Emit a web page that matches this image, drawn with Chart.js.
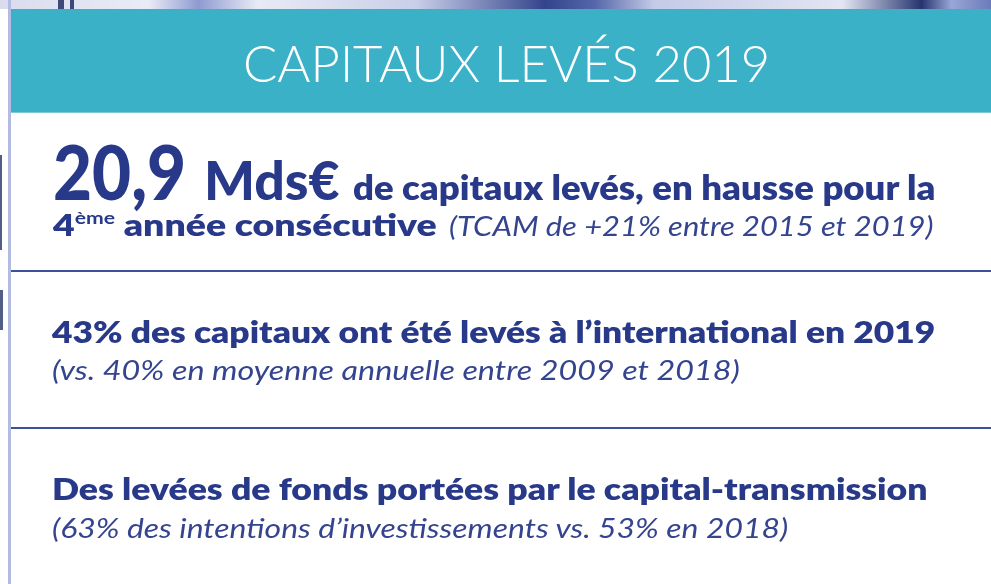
<!DOCTYPE html>
<html lang="fr">
<head>
<meta charset="utf-8">
<script src="https://cdn.jsdelivr.net/npm/chart.js@4/dist/chart.umd.min.js"></script>
<style>
  html, body { margin: 0; padding: 0; overflow: hidden; background: #fff; }
  #wrap { position: relative; width: 991px; height: 584px; }
  #panel { position: absolute; left: 0; top: 0; }
  .ln { position: absolute; white-space: nowrap; transform-origin: 0 0; color: #29398a; font-family: Lato, "Open Sans", sans-serif; }
  .ln .m { display: inline-block; width: 0; height: 0; vertical-align: baseline; }
  .title { color: #fff; font-weight: 300; font-size: 52px; }
  .big { font-weight: 900; font-size: 76px; }
  .mid { font-weight: 900; font-size: 54px; }
  .b { font-weight: 800; font-size: 34px; }
  .b2 { font-weight: 800; font-size: 30px; }
  .it { font-style: italic; font-weight: 400; font-size: 27px; color: #34448f; }
  sup { font-size: 17px; font-weight: 700; vertical-align: 12px; }
</style>
</head>
<body>
<div id="wrap">
  <canvas id="panel" width="991" height="584"></canvas>
  <div class="ln" id="title" data-base="82" data-left="243" data-right="770"></div>
  <div class="ln" id="l1a" data-base="200" data-left="53" data-right="186"></div>
  <div class="ln" id="l1b" data-base="200" data-left="204" data-right="340"></div>
  <div class="ln" id="l1c" data-base="200" data-left="353" data-right="935"></div>
  <div class="ln" id="l2a" data-base="236" data-left="53" data-right="437"></div>
  <div class="ln" id="l2b" data-base="236" data-left="449" data-right="933"></div>
  <div class="ln" id="l3" data-base="343" data-left="52" data-right="935"></div>
  <div class="ln" id="l4" data-base="380" data-left="52" data-right="740"></div>
  <div class="ln" id="l5" data-base="500" data-left="52" data-right="928"></div>
  <div class="ln" id="l6" data-base="538" data-left="52" data-right="788"></div>
</div>
<script>
// chiffres clés 2019
const reportYear = [2019];
const raisedBn = [20.9];            // Mds€ levés
const streak = [4];                 // 4ème année de hausse
const cagrPct = [21];
const cagrYears = [2015, 2019];
const intlShare = [43, 40];         // 2019, moyenne 2009-2018
const intlYears = [2009, 2018];
const transmissionShare = [63, 53]; // 2019, 2018
const transmissionYears = [2018];

const fr = (v) => String(v).replace('.', ',');

// background: photo strip, teal banner, white card, separators
const panelPlugin = {
    id: 'panel',
    beforeDraw(chart) {
        const c = chart.ctx;
        const w = chart.width, h = chart.height;
        c.save();
        c.fillStyle = '#ffffff';
        c.fillRect(0, 0, w, h);

        // top strip (blurred photo behind the card)
        let g = c.createLinearGradient(0, 0, w, 0);
        g.addColorStop(0, '#dadcee');
        g.addColorStop(0.15, '#e9ebf6');
        g.addColorStop(0.2, '#8f9bd0');
        g.addColorStop(0.26, '#e8eaf5');
        g.addColorStop(0.42, '#c9cfe9');
        g.addColorStop(0.55, '#34448c');
        g.addColorStop(0.6, '#5566aa');
        g.addColorStop(0.66, '#c4cae7');
        g.addColorStop(0.85, '#e3e5f3');
        g.addColorStop(0.93, '#26356f');
        g.addColorStop(0.96, '#9aa6d6');
        g.addColorStop(1, '#6a7bbb');
        c.fillStyle = g;
        c.fillRect(0, 0, w, 9);
        c.fillStyle = 'rgba(20,35,90,0.8)';
        c.fillRect(58, 0, 6, 9);
        c.fillRect(70, 0, 4, 9);

        // dark bits of the photo on the left
        c.fillStyle = 'rgba(25,40,95,0.75)';
        c.fillRect(0, 155, 2, 95);
        c.fillRect(0, 290, 3, 40);

        // card left border
        c.fillStyle = '#b3bbe2';
        c.fillRect(8, 0, 3, h);

        // banner
        c.fillStyle = '#3bb1c7';
        c.fillRect(11, 9, w - 11, 104);
        c.fillStyle = '#7cc9d7';
        c.fillRect(11, 112, w - 11, 1);

        // separators
        c.fillStyle = '#3c509c';
        c.fillRect(11, 270, w - 11, 2);
        c.fillRect(11, 427, w - 11, 2);
        c.restore();
    }
};

new Chart(document.getElementById('panel'), {
    type: 'bar',
    data: { labels: [], datasets: [] },
    options: {
        responsive: false,
        animation: false,
        events: [],
        plugins: { legend: { display: false }, tooltip: { enabled: false } },
        scales: { x: { display: false }, y: { display: false } }
    },
    plugins: [panelPlugin]
});

const M = '<i class="m"></i>';
const put = (id, html) => { document.getElementById(id).innerHTML = html + M; };
put('title', `<span class="title">CAPITAUX LEVÉS ${reportYear[0]}</span>`);
put('l1a', `<span class="big">${fr(raisedBn[0])}</span>`);
put('l1b', `<span class="mid">Mds€</span>`);
put('l1c', `<span class="b">de capitaux levés, en hausse pour la</span>`);
put('l2a', `<span class="b2">${streak[0]}<sup>ème</sup> année consécutive</span>`);
put('l2b', `<span class="it">(TCAM de +${cagrPct[0]}% entre ${cagrYears[0]} et ${cagrYears[1]})</span>`);
put('l3', `<span class="b2">${intlShare[0]}% des capitaux ont été levés à l’international en ${reportYear[0]}</span>`);
put('l4', `<span class="it">(vs. ${intlShare[1]}% en moyenne annuelle entre ${intlYears[0]} et ${intlYears[1]})</span>`);
put('l5', `<span class="b2">Des levées de fonds portées par le capital-transmission</span>`);
put('l6', `<span class="it">(${transmissionShare[0]}% des intentions d’investissements vs. ${transmissionShare[1]}% en ${transmissionYears[0]})</span>`);

// fit each line to its span in the picture, baseline on data-base
function fitLines() {
    document.querySelectorAll('.ln').forEach((el) => {
        el.style.transform = 'none';
        const left = +el.dataset.left, right = +el.dataset.right, base = +el.dataset.base;
        const mark = el.querySelector('.m');
        const width = mark.offsetLeft;
        el.style.left = left + 'px';
        el.style.top = (base - mark.offsetTop) + 'px';
        el.style.transformOrigin = '0 ' + mark.offsetTop + 'px';
        el.style.transform = 'scaleX(' + ((right - left) / width) + ')';
    });
}
fitLines();
if (document.fonts && document.fonts.ready) document.fonts.ready.then(fitLines);
</script>
</body>
</html>
